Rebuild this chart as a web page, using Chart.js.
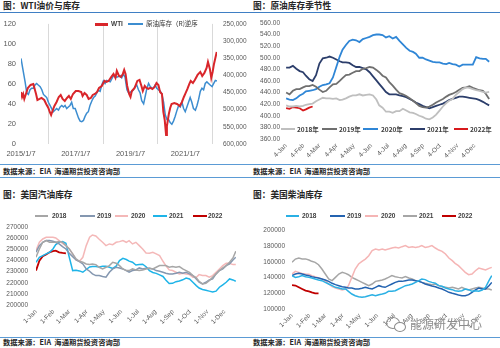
<!DOCTYPE html>
<html><head><meta charset="utf-8">
<script src="https://cdn.jsdelivr.net/npm/chart.js@4.4.1/dist/chart.umd.min.js"></script>
<style>
html,body{margin:0;padding:0;background:#fff;}
body{width:500px;height:348px;overflow:hidden;position:relative;font-family:"Liberation Sans",Arial,sans-serif;}
canvas{position:absolute;}
.title{position:absolute;font-family:"Noto Sans CJK SC";font-size:8.7px;font-weight:bold;color:#262626;line-height:1;white-space:nowrap;}
.src{position:absolute;font-family:"Noto Sans CJK SC";font-size:7.3px;font-weight:bold;color:#262626;line-height:1;white-space:nowrap;}
.hl{position:absolute;height:1px;background:#5b9bd5;}
.lg{position:absolute;height:2px;}
.lt{position:absolute;font-size:6.5px;font-weight:bold;color:#404040;line-height:1;white-space:nowrap;}
.ltc{position:absolute;font-family:"Noto Sans CJK SC";font-size:6.5px;font-weight:bold;color:#404040;line-height:1;white-space:nowrap;}
.wm{position:absolute;font-family:"Noto Sans CJK SC";font-size:12px;color:#8c8c8c;line-height:1;white-space:nowrap;text-shadow:0 0 1px #fff;}
.ic{position:absolute;border:1.3px solid #8c8c8c;border-radius:50%;background:transparent;}
</style></head><body>

<div class="title" style="left:3px;top:1.5px">图：WTI油价与库存</div>
<div class="title" style="left:253px;top:1.5px">图：原油库存季节性</div>
<div class="hl" style="left:0;top:12px;width:500px;background:#3f7fc4"></div>

<canvas id="c1" width="250" height="148" style="left:0;top:14px"></canvas>
<canvas id="c2" width="250" height="150" style="left:250px;top:14px"></canvas>

<div class="hl" style="left:0;top:164px;width:500px"></div>
<div class="src" style="left:3px;top:167.5px">数据来源：EIA&nbsp; 海通期货投资咨询部</div>
<div class="src" style="left:253px;top:167.5px">数据来源：EIA&nbsp; 海通期货投资咨询部</div>
<div class="hl" style="left:0;top:177px;width:500px"></div>

<div class="title" style="left:3px;top:191px">图：美国汽油库存</div>
<div class="title" style="left:253px;top:191px">图：美国柴油库存</div>

<canvas id="c3" width="250" height="125" style="left:0;top:210px"></canvas>
<canvas id="c4" width="250" height="125" style="left:250px;top:210px"></canvas>

<div class="hl" style="left:0;top:336.5px;width:500px"></div>
<div class="src" style="left:3px;top:338.5px">数据来源：EIA&nbsp; 海通期货投资咨询部</div>
<div class="src" style="left:253px;top:338.5px">数据来源：EIA&nbsp; 海通期货投资咨询部</div>

<!-- legends -->
<div class="lg" style="left:95px;top:23px;width:13px;height:2.5px;background:#d9262b"></div>
<div class="lt" style="left:111px;top:20.5px">WTI</div>
<div class="lg" style="left:128px;top:23px;width:15px;background:#3c8dd0"></div>
<div class="ltc" style="left:146px;top:20px;font-weight:normal;color:#333">原油库存（R)逆序</div>

<div class="lg" style="left:281px;top:128px;width:14px;background:#bfbfbf"></div>
<div class="ltc" style="left:297px;top:125.5px">2018年</div>
<div class="lg" style="left:322px;top:128px;width:15px;background:#6f6f6f"></div>
<div class="ltc" style="left:339px;top:125.5px">2019年</div>
<div class="lg" style="left:363px;top:128px;width:15px;background:#2f86d6"></div>
<div class="ltc" style="left:381px;top:125.5px">2020年</div>
<div class="lg" style="left:410px;top:128px;width:15px;background:#2c3e6b"></div>
<div class="ltc" style="left:427px;top:125.5px">2021年</div>
<div class="lg" style="left:454px;top:128px;width:14px;background:#d7191c"></div>
<div class="ltc" style="left:470px;top:125.5px">2022年</div>

<div class="lg" style="left:35px;top:215px;width:13px;background:#a6a6a6"></div>
<div class="lt" style="left:52px;top:212.5px">2018</div>
<div class="lg" style="left:80px;top:215px;width:15px;background:#8497b0"></div>
<div class="lt" style="left:97px;top:212.5px">2019</div>
<div class="lg" style="left:115px;top:215px;width:13px;background:#f4b8b8"></div>
<div class="lt" style="left:131px;top:212.5px">2020</div>
<div class="lg" style="left:153px;top:215px;width:14px;background:#1eb4e8"></div>
<div class="lt" style="left:169px;top:212.5px">2021</div>
<div class="lg" style="left:193px;top:215px;width:14px;background:#c00000"></div>
<div class="lt" style="left:208px;top:212.5px">2022</div>

<div class="lg" style="left:286px;top:215px;width:13px;background:#2ab0e4"></div>
<div class="lt" style="left:302px;top:212.5px">2018</div>
<div class="lg" style="left:330px;top:215px;width:15px;background:#2463b0"></div>
<div class="lt" style="left:347px;top:212.5px">2019</div>
<div class="lg" style="left:365px;top:215px;width:13px;background:#f5b5b5"></div>
<div class="lt" style="left:381px;top:212.5px">2020</div>
<div class="lg" style="left:403px;top:215px;width:14px;background:#a6a6a6"></div>
<div class="lt" style="left:419px;top:212.5px">2021</div>
<div class="lg" style="left:442px;top:215px;width:14px;background:#c00000"></div>
<div class="lt" style="left:458px;top:212.5px">2022</div>

<!-- watermark -->
<div class="ic" style="left:386px;top:317px;width:12px;height:10px"></div>
<div class="ic" style="left:394px;top:322px;width:10px;height:8px;background:#fff"></div>
<div class="wm" style="left:410px;top:318px">能源研发中心</div>

<script>
// ---------- Panel 1: WTI & crude stock ----------
const wtiDates = [2015.00,2015.04,2015.08,2015.12,2015.18,2015.25,2015.35,2015.45,2015.55,2015.60,2015.68,2015.75,2015.85,2015.92,
2016.00,2016.05,2016.10,2016.15,2016.22,2016.30,2016.38,2016.45,2016.52,2016.60,2016.68,2016.75,2016.82,2016.90,
2017.00,2017.10,2017.20,2017.25,2017.32,2017.40,2017.47,2017.55,2017.62,2017.70,2017.78,2017.85,2017.95,
2018.05,2018.12,2018.20,2018.30,2018.38,2018.45,2018.50,2018.58,2018.65,2018.72,2018.77,2018.82,2018.88,2018.95,
2019.00,2019.05,2019.15,2019.25,2019.33,2019.40,2019.45,2019.52,2019.58,2019.65,2019.72,2019.80,2019.88,2019.95,
2020.02,2020.08,2020.15,2020.20,2020.25,2020.30,2020.33,2020.40,2020.45,2020.50,2020.60,2020.70,2020.80,2020.88,2020.95,
2021.00,2021.08,2021.15,2021.20,2021.28,2021.35,2021.45,2021.55,2021.62,2021.70,2021.78,2021.83,2021.90,2021.95,
2022.00,2022.05,2022.10,2022.15];
const wtiPrice = [52,47,50,45,50,56,59,60,50,44,45,46,44,40,
36,32,29,33,38,42,47,49,45,43,46,48,45,50,
53,53,52,48,51,49,45,46,49,50,52,56,58,
63,62,63,67,70,66,73,68,67,70,74,70,58,50,
47,53,56,63,64,58,53,58,56,55,56,55,57,61,
59,52,50,32,24,9,18,30,36,40,41,40,38,42,47,
50,55,60,63,61,64,69,72,68,71,76,82,75,66,
72,80,86,92];
const stockDates = [2015.00,2015.06,2015.15,2015.21,2015.27,2015.33,2015.39,2015.45,2015.51,2015.57,2015.63,2015.70,2015.76,2015.82,2015.88,2015.94,
2016.00,2016.06,2016.12,2016.18,2016.30,2016.37,2016.43,2016.49,2016.55,2016.61,2016.67,2016.73,2016.79,2016.85,2016.91,2016.98,
2017.04,2017.10,2017.16,2017.22,2017.28,2017.34,2017.40,2017.46,2017.52,2017.59,2017.65,2017.71,2017.77,2017.83,2017.89,2017.95,
2018.01,2018.07,2018.13,2018.26,2018.32,2018.38,2018.44,2018.50,2018.56,2018.62,2018.68,2018.74,2018.80,2018.87,2018.93,2018.99,
2019.05,2019.11,2019.17,2019.23,2019.29,2019.35,2019.41,2019.48,2019.54,2019.60,2019.66,2019.72,2019.78,2019.84,2019.90,2019.96,
2020.02,2020.09,2020.15,2020.21,2020.27,2020.33,2020.39,2020.45,2020.51,2020.57,2020.63,2020.70,2020.76,2020.82,2020.88,2020.94,
2021.00,2021.06,2021.12,2021.18,2021.24,2021.30,2021.37,2021.43,2021.49,2021.55,2021.61,2021.67,2021.73,2021.79,2021.85,2021.91,2021.98,
2022.04,2022.10,2022.16];
const crudeStock = [350500,377900,419000,451000,455600,441900,437300,437300,428200,423600,428200,432800,441900,455600,460200,464700,
478400,487600,496700,505900,496700,501300,492200,487600,492200,487600,496700,492200,487600,478400,496700,496700,
510400,524100,533300,535100,531400,519600,510400,505900,487600,473900,464700,460200,451000,443700,446500,428200,
416300,423600,414500,419000,409900,400800,403500,405300,403500,400800,407200,396200,405300,441900,451000,449200,
446500,441900,432800,428200,441900,451000,473900,483000,460200,437300,423600,432800,437300,437300,428200,437300,
441900,446500,455600,478400,515000,528700,528700,537800,542400,533300,519600,501300,487600,492200,478400,496700,
505900,492200,478400,464700,478400,496700,501300,487600,469300,446500,437300,441900,423600,419000,423600,428200,432800,
423600,414500,416300];
const wtiYearTicks = [2015,2016,2017,2018,2019,2020,2021,2022];
const wtiYearLabels = ['2015/1/7','','2017/1/7','','2019/1/7','','2021/1/7',''];

// ---------- Seasonal panels: sample days of year ----------
const sampleDays = [0,6,12,18,24,30,35,41,47,53,59,65,71,77,83,89,95,100,106,112,118,124,130,136,142,148,154,160,165,171,177,183,189,195,201,207,213,219,225,230,236,242,248,254,260,266,272,278,284,289,295,301,307,313,319,325,331,337,343,349,354,360];
const monthDays = [0,31,59,90,120,151,181,212,243,273,304,334];
const crudeMonthLabels = ['4-Jan','4-Feb','4-Mar','4-Apr','4-May','4-Jun','4-Jul','4-Aug','4-Sep','4-Oct','4-Nov','4-Dec'];
const productMonthLabels = ['1-Jan','1-Feb','1-Mar','1-Apr','1-May','1-Jun','1-Jul','1-Aug','1-Sep','1-Oct','1-Nov','1-Dec'];

// Panel 2: crude stock seasonality (million bbl)
const crude2018 = [418,416,416,417,416,417,419,420,421,425,428,431,430,430,429,430,427,428,430,433,435,435,437,435,436,437,435,428,418,414,407,407,405,408,408,412,409,406,405,403,400,398,395,394,397,402,409,416,422,426,429,436,441,446,449,448,446,444,443,441,440,441];
const crude2019 = [440,437,443,446,446,449,451,451,453,450,445,441,443,449,454,455,460,465,470,471,474,477,477,481,482,484,483,479,475,469,466,458,452,445,439,437,434,430,426,422,417,415,414,416,419,423,426,429,433,436,438,441,445,448,449,451,448,446,444,443,438,429];
const crude2020 = [430,428,427,430,435,438,442,443,444,446,450,453,454,456,466,484,502,514,522,529,531,530,527,532,534,536,539,540,540,539,535,537,533,536,529,523,517,512,510,507,500,500,497,495,493,492,492,490,489,491,489,488,485,488,488,488,488,501,499,498,498,493];
const crude2021 = [483,483,486,481,477,475,469,463,460,470,490,499,500,502,500,497,494,492,492,491,487,484,484,482,480,475,468,461,455,448,441,437,437,437,435,434,432,429,426,423,420,417,415,413,415,417,419,421,424,427,429,431,433,433,432,431,430,429,427,424,421,418];
const crude2022 = [413,412,415,414,413,409,411,414,416];

// Panel 3: gasoline stock
const gas2018 = [243000,250500,256500,258000,256500,256500,256500,257100,256500,253500,250500,246000,241500,239400,238500,237000,236400,237000,236400,234000,232500,234000,235500,238500,237600,235500,232500,231000,231000,232500,231600,231000,231600,232500,233100,232500,234000,235500,235500,235500,234000,234600,234000,234600,232500,231000,229500,226500,224400,221400,219000,219600,222000,225000,228000,231000,233400,235500,238500,242400,248400];
const gas2019 = [247500,253500,256500,258000,258000,257400,256500,255000,252600,250500,246600,243600,240600,239100,237000,232500,230400,228000,226500,226500,225600,225000,229500,232500,234000,233400,232500,231000,229500,231000,231600,233400,232500,233100,233100,232500,231000,230400,229500,228600,228000,228000,228600,229500,228600,229500,228000,226500,223500,220500,219000,220500,222600,223500,228000,231000,232500,235500,237000,240600,243000];
const gas2020 = [249000,256500,259500,261000,261000,261000,260400,258000,255600,253500,250500,246000,240600,239400,243000,253500,261000,263100,262200,259200,256500,253500,255000,254400,256500,257100,258000,256500,258000,255000,256500,253500,250500,246900,246600,247500,246000,244500,239400,235500,231600,231000,229500,228000,228600,228000,227400,225000,225000,227400,226500,226500,225000,226500,229500,232500,235500,237600,237600,236400,236400];
const gas2021 = [238500,243000,244500,246000,247500,250500,254400,256500,257100,255600,243000,231000,231300,230700,229500,232000,234300,234600,234600,234300,235000,235000,234000,233000,235000,240000,242000,241000,239500,238500,236000,236500,236700,234500,231000,229300,228500,227200,225700,222500,219400,219500,221000,221700,222700,224200,223500,220500,217500,215300,214000,213300,212500,211700,212500,216000,218200,220500,223500,222600,221400];
const gas2022 = [231000,240000,244000,245500,247500,248500,249000,247500,246900,246500];

// Panel 4: distillate stock
const dist2018 = [142600,140400,141300,142600,141300,140400,139600,138300,137000,136200,134000,131900,129800,127700,126800,125500,125500,122600,119100,117000,115700,114900,115700,117000,118300,117000,118300,119100,120000,122600,122600,123400,125500,127700,129800,130600,131900,134000,136200,138300,137500,135300,134000,133000,129800,129000,126800,125500,124700,123400,122600,123400,125500,124700,122600,123400,122600,124300,127700,136200,142600];
const dist2019 = [142600,144700,145500,144700,143400,142600,141300,140400,139600,138300,137000,135300,132800,131100,129800,128500,127700,126800,126800,125500,125500,126400,127700,126400,125500,127700,129800,128500,127700,129800,131900,134000,135300,135300,136200,137000,137000,136200,135300,134000,131900,130600,129400,128500,126800,125500,123400,121300,120000,119100,117900,117000,117000,118300,121300,124300,126800,125500,125500,129800,134000];
const dist2020 = [144700,148100,146800,145500,144700,144300,142600,141300,139600,138300,136200,131900,128500,126800,125500,124300,125500,129800,140400,151100,157500,160900,163800,168100,174500,176600,175300,176600,175300,176600,177900,178700,177900,179600,180900,178700,179600,178700,179600,180900,178700,179600,180900,177900,175300,173600,170200,165100,161700,158300,155300,151100,146800,143800,144700,148900,152300,151100,149800,151900,153200];
const dist2021 = [159600,163800,165100,164000,164000,162600,160900,159600,156600,151100,144700,138300,136200,140400,144700,146800,145500,143800,140400,138300,136200,134000,131900,129800,131900,135300,136200,137000,138300,140400,142600,141300,140400,139600,141300,139600,138300,136200,135300,134000,132800,131900,131100,131900,129800,128500,127700,126800,127700,126800,125500,127700,125500,124300,125500,126800,127700,126800,125500,125500,124300];
const dist2022 = [130600,130000,127700,125500,123400,122600,121300,120000,120000];

// ---------- helpers ----------
Chart.defaults.font.family = '"Liberation Sans", Arial, sans-serif';
Chart.defaults.color = '#595959';
const pts = (xs, ys) => ys.map((v, i) => ({x: xs[i], y: v}));
const line = (label, xs, ys, color, w, axis) => ({
  label, data: pts(xs, ys), borderColor: color, backgroundColor: color,
  borderWidth: w, pointRadius: 0, tension: 0, fill: false, yAxisID: axis || 'y'
});
const baseOpts = (pad) => ({
  responsive: false, animation: false, devicePixelRatio: 1,
  layout: {padding: pad},
  plugins: {legend: {display: false}, tooltip: {enabled: false}},
  events: []
});
const noGrid = {display: false, drawTicks: false};

// Panel 1
new Chart(document.getElementById('c1'), {
  type: 'line',
  data: {datasets: [
    line('WTI', wtiDates, wtiPrice, '#d9262b', 2, 'y'),
    line('原油库存（R)逆序', stockDates, crudeStock, '#3c8dd0', 1.5, 'y1')
  ]},
  options: Object.assign(baseOpts({top: 3, left: 0, right: 0, bottom: 0}), {
    scales: {
      x: {type: 'linear', min: 2015, max: 2022.16,
        afterBuildTicks: a => { a.ticks = wtiYearTicks.map(v => ({value: v})); },
        afterFit: s => { s.height = 18; },
        ticks: {autoSkip: false, maxRotation: 0, minRotation: 0, padding: 5, font: {size: 7.5},
          callback: (v, i) => wtiYearLabels[i]},
        grid: {drawTicks: false, lineWidth: 1,
          color: c => (c.tick && wtiYearLabels[c.index] === '') ? '#d9d9d9' : 'rgba(0,0,0,0)'},
        border: {display: false}
      },
      y: {position: 'left', min: 0, max: 120,
        afterFit: s => { s.width = 21; },
        ticks: {stepSize: 20, padding: 5, font: {size: 7.5}},
        grid: noGrid, border: {display: false}},
      y1: {position: 'right', min: 250000, max: 600000, reverse: true,
        afterFit: s => { s.width = 33; },
        ticks: {stepSize: 50000, padding: 6, font: {size: 6.5}, callback: v => v.toLocaleString('en-US')},
        grid: noGrid, border: {display: false}}
    }
  })
});

function seasonal(id, series, opts) {
  return new Chart(document.getElementById(id), {
    type: 'line',
    data: {datasets: series.map(s => line(s[0], sampleDays, s[1], s[2], s[3] || 1.5))},
    options: Object.assign(baseOpts(opts.pad), {
      scales: {
        x: {type: 'linear', min: opts.xmin, max: opts.xmax,
          afterBuildTicks: a => { a.ticks = monthDays.map(v => ({value: v})); },
          afterFit: s => { s.height = opts.xh; },
          ticks: {autoSkip: false, maxRotation: 45, minRotation: 45, padding: 3, font: {size: 6.5},
            callback: (v, i) => opts.labels[i]},
          grid: noGrid, border: {display: false}},
        y: {min: opts.ymin, max: opts.ymax,
          afterFit: s => { s.width = opts.yw; },
          ticks: {stepSize: opts.step, padding: opts.ypad, font: {size: 6.5}, callback: opts.fmt},
          grid: noGrid, border: {display: false}}
      }
    })
  });
}

seasonal('c2', [
  ['2018年', crude2018, '#bfbfbf', 1.8],
  ['2019年', crude2019, '#6f6f6f', 1.8],
  ['2020年', crude2020, '#2f86d6', 1.8],
  ['2021年', crude2021, '#2c3e6b', 1.8],
  ['2022年', crude2022, '#d7191c', 1.8]
], {pad: {top: 7, left: 0, right: 10, bottom: 0}, xmin: -2, xmax: 361.5, xh: 25, yw: 35, ypad: 5,
  ymin: 360, ymax: 560, step: 20, fmt: v => v.toFixed(2), labels: crudeMonthLabels});

seasonal('c3', [
  ['2018', gas2018, '#a6a6a6'],
  ['2019', gas2019, '#8497b0'],
  ['2020', gas2020, '#f4b8b8'],
  ['2021', gas2021, '#1eb4e8'],
  ['2022', gas2022, '#c00000', 1.8]
], {pad: {top: 17.3, left: 0, right: 14, bottom: 0}, xmin: 0, xmax: 354.4, xh: 30, yw: 36, ypad: 8,
  ymin: 200000, ymax: 270000, step: 10000, fmt: v => String(v), labels: productMonthLabels});

seasonal('c4', [
  ['2018', dist2018, '#2ab0e4'],
  ['2019', dist2019, '#2463b0'],
  ['2020', dist2020, '#f5b5b5'],
  ['2021', dist2021, '#a6a6a6'],
  ['2022', dist2022, '#c00000', 1.8]
], {pad: {top: 20.7, left: 0, right: 8, bottom: 0}, xmin: 0, xmax: 354.4, xh: 26, yw: 42, ypad: 7,
  ymin: 100000, ymax: 200000, step: 20000, fmt: v => String(v), labels: productMonthLabels});
</script>
</body></html>
